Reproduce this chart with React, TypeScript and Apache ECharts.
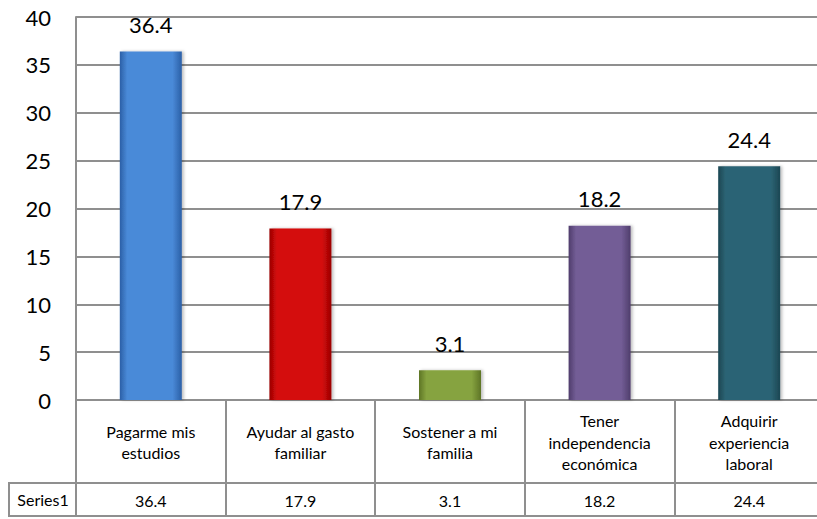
import React, { useEffect, useRef } from "react";
import * as echarts from "echarts";

const categories = [
  "Pagarme mis\nestudios",
  "Ayudar al gasto\nfamiliar",
  "Sostener a mi\nfamilia",
  "Tener\nindependencia\neconómica",
  "Adquirir\nexperiencia\nlaboral",
];
const values = [36.4, 17.9, 3.1, 18.2, 24.4];
const seriesName = "Series1";
const barColors = [
  ["#2b5fa6", "#4a8ad8"],
  ["#9a0000", "#d40c0c"],
  ["#5e7526", "#86a33f"],
  ["#4f3d6c", "#735d96"],
  ["#1c4653", "#2c6474"],
];
const yMin = 0;
const yMax = 40;
const yInterval = 5;

const FONT = "Lato, 'Open Sans', sans-serif";
const GRID = "#8f8f8f";

export default function App() {
  const ref = useRef<HTMLDivElement>(null);
  useEffect(() => {
    if (!ref.current) return;
    const chart = echarts.init(ref.current, null, { renderer: "svg" });
    const left = 76;
    const top = 17;
    const bottom = 119;
    const zeroY = 519 - bottom;
    const headerH = 83;
    const rowH = 33;
    const lineStyle = { color: GRID, width: 2 };
    chart.setOption({
      animation: false,
      grid: { left, top, bottom, right: 6, containLabel: false },
      xAxis: [
        {
          type: "category",
          data: categories,
          position: "bottom",
          axisLine: { show: true, lineStyle },
          axisTick: { show: true, length: headerH, interval: 0, alignWithLabel: false, lineStyle },
          axisLabel: {
            interval: 0,
            fontFamily: FONT,
            fontSize: 16,
            color: "#000",
            lineHeight: 21.5,
            verticalAlign: "middle",
            margin: 42,
          },
        },
        {
          type: "category",
          data: categories,
          position: "bottom",
          offset: headerH,
          axisLine: { show: true, lineStyle },
          axisTick: { show: true, length: rowH, interval: 0, alignWithLabel: false, lineStyle },
          axisLabel: {
            interval: 0,
            fontFamily: FONT,
            fontSize: 16,
            color: "#000",
            verticalAlign: "middle",
            margin: 17,
            formatter: (_v: string, i: number) => String(values[i]),
          },
        },
        {
          type: "category",
          data: categories,
          position: "bottom",
          offset: headerH + rowH,
          axisLine: { show: true, lineStyle },
          axisTick: { show: false },
          axisLabel: { show: false },
        },
      ],
      yAxis: {
        type: "value",
        min: yMin,
        max: yMax,
        interval: yInterval,
        axisLine: { show: true, lineStyle },
        axisTick: { show: false },
        splitLine: { show: true, lineStyle },
        axisLabel: { fontFamily: FONT, fontSize: 22, color: "#000", margin: 25 },
      },
      series: [
        {
          type: "bar",
          name: seriesName,
          xAxisIndex: 0,
          barWidth: 62,
          data: values.map((v, i) => ({
            value: v,
            itemStyle: {
              color: new echarts.graphic.LinearGradient(0, 0, 1, 0, [
                { offset: 0, color: barColors[i][0] },
                { offset: 0.12, color: barColors[i][1] },
                { offset: 0.85, color: barColors[i][1] },
                { offset: 1, color: barColors[i][0] },
              ]),
              shadowColor: "rgba(0,0,0,0.25)",
              shadowBlur: 3,
              shadowOffsetX: 2,
            },
          })),
          label: {
            show: true,
            position: "top",
            distance: 16,
            fontFamily: FONT,
            fontSize: 22,
            color: "#000",
          },
        },
      ],
      graphic: [
        {
          type: "line",
          shape: { x1: 8, y1: zeroY + headerH, x2: left, y2: zeroY + headerH },
          style: { stroke: GRID, lineWidth: 2 },
        },
        {
          type: "line",
          shape: { x1: 8, y1: zeroY + headerH + rowH, x2: left, y2: zeroY + headerH + rowH },
          style: { stroke: GRID, lineWidth: 2 },
        },
        {
          type: "line",
          shape: { x1: 9, y1: zeroY + headerH, x2: 9, y2: zeroY + headerH + rowH },
          style: { stroke: GRID, lineWidth: 2 },
        },
        {
          type: "text",
          x: (8 + left) / 2 + 1,
          y: zeroY + headerH + rowH / 2,
          style: {
            text: seriesName,
            fontFamily: FONT,
            fontSize: 16,
            fill: "#000",
            align: "center",
            verticalAlign: "middle",
          },
        },
      ],
    });
    return () => chart.dispose();
  }, []);
  return (
    <div
      style={{ position: "fixed", left: 0, top: 0, width: 817, height: 519, overflow: "hidden", background: "#fff" }}
    >
      <div ref={ref} style={{ width: 830, height: 519 }} />
    </div>
  );
}
